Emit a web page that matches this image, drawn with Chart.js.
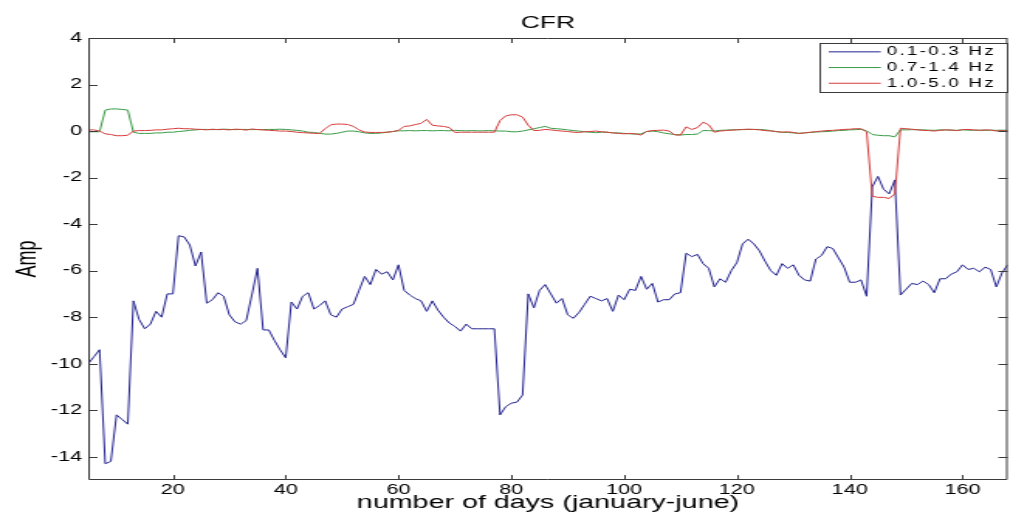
<!DOCTYPE html>
<html>
<head>
<meta charset="utf-8">
<title>CFR</title>
<script src="https://cdn.jsdelivr.net/npm/chart.js@4"></script>
<style>
  html, body { margin: 0; padding: 0; background: #fff; overflow: hidden; }
  /* the source figure is stretched sideways, so draw it narrow and stretch the canvas */
  #cfr { display: block; transform: scaleX(1.549); transform-origin: 0 0; }
</style>
</head>
<body>
<canvas id="cfr" width="652" height="514"></canvas>
<script>
const FONT = '"Liberation Sans", Arial, Helvetica, sans-serif';
const BLUE = '#23238f';
const GREEN = '#379b45';
const RED = '#d63c3c';
const AXIS_COLOR = '#3a3a3a';

const FIRST_DAY = 5;
const xTicks = [20, 40, 60, 80, 100, 120, 140, 160];
const yTicks = [-14, -12, -10, -8, -6, -4, -2, 0, 2, 4];
const bandLabels = ['0.1-0.3 Hz', '0.7-1.4 Hz', '1.0-5.0 Hz'];

// one value per day, starting at day 5
const band01_03 = [
    -10.0, -9.7, -9.4, -14.3, -14.2, -12.2, -12.4, -12.6, -7.3, -8.1,
    -8.5, -8.3, -7.75, -8.0, -7.0, -7.0, -4.5, -4.55, -4.9, -5.8,
    -5.2, -7.4, -7.25, -6.95, -7.1, -7.9, -8.2, -8.3, -8.15, -7.05,
    -5.9, -8.55, -8.55, -9.0, -9.4, -9.75, -7.35, -7.65, -7.1, -6.95,
    -7.65, -7.5, -7.3, -7.9, -8.0, -7.65, -7.55, -7.45, -6.85, -6.25,
    -6.6, -5.95, -6.15, -6.05, -6.4, -5.75, -6.85, -7.05, -7.2, -7.3,
    -7.75, -7.3, -7.7, -8.0, -8.25, -8.4, -8.6, -8.3, -8.5, -8.5,
    -8.5, -8.5, -8.5, -12.2, -11.85, -11.7, -11.65, -11.35, -7.0, -7.6,
    -6.85, -6.6, -7.0, -7.4, -7.2, -7.9, -8.05, -7.8, -7.45, -7.1,
    -7.2, -7.3, -7.2, -7.75, -7.05, -7.25, -6.8, -6.85, -6.25, -6.8,
    -6.55, -7.35, -7.25, -7.25, -7.0, -6.95, -5.25, -5.4, -5.3, -5.7,
    -5.9, -6.7, -6.35, -6.5, -6.0, -5.65, -4.85, -4.65, -4.85, -5.15,
    -5.6, -6.0, -6.2, -5.7, -5.9, -5.75, -6.2, -6.4, -6.45, -5.5,
    -5.35, -4.97, -5.05, -5.45, -5.85, -6.5, -6.5, -6.4, -7.1, -2.4,
    -1.95, -2.5, -2.7, -2.1, -7.05, -6.8, -6.55, -6.6, -6.45, -6.6,
    -6.95, -6.35, -6.35, -6.15, -6.05, -5.75, -5.95, -5.9, -6.05, -5.85,
    -5.95, -6.7, -6.1, -5.75
];
const band07_14 = [
    -0.03, -0.03, -0.03, 0.9, 0.95, 0.95, 0.93, 0.9, -0.05, -0.1,
    -0.1, -0.1, -0.08, -0.08, -0.05, -0.05, -0.02, 0.0, 0.03, 0.05,
    0.07, 0.07, 0.06, 0.07, 0.08, 0.07, 0.06, 0.07, 0.07, 0.06,
    0.07, 0.06, 0.07, 0.07, 0.08, 0.07, 0.05, 0.03, 0.0, -0.05,
    -0.06, -0.1, -0.13, -0.13, -0.1, -0.05, 0.0, 0.0, -0.03, -0.08,
    -0.1, -0.1, -0.08, -0.05, -0.02, 0.01, 0.01, 0.02, 0.01, 0.02,
    0.02, 0.01, 0.02, 0.02, 0.01, 0.03, 0.02, 0.01, 0.02, 0.01,
    0.01, 0.02, 0.01, 0.0, 0.0, -0.03, -0.03, 0.0, 0.05, 0.1,
    0.15, 0.2, 0.12, 0.1, 0.08, 0.05, 0.02, 0.0, -0.03, -0.05,
    -0.07, -0.05, -0.05, -0.08, -0.08, -0.1, -0.12, -0.13, -0.12, -0.02,
    0.0, -0.03, -0.08, -0.12, -0.15, -0.17, -0.15, -0.15, -0.13, 0.02,
    0.02, 0.0, 0.03, 0.04, 0.05, 0.06, 0.06, 0.07, 0.07, 0.07,
    0.05, 0.02, -0.03, -0.05, -0.06, -0.08, -0.1, -0.08, -0.06, -0.04,
    -0.03, -0.02, 0.0, 0.02, 0.03, 0.05, 0.06, 0.07, 0.01, -0.15,
    -0.18, -0.2, -0.2, -0.25, 0.05, 0.05, 0.06, 0.06, 0.05, 0.04,
    0.03, 0.05, 0.05, 0.04, 0.03, 0.05, 0.04, 0.03, 0.04, 0.03,
    0.04, 0.03, 0.04, 0.03
];
const band10_50 = [
    0.05, 0.05, 0.0, -0.12, -0.15, -0.2, -0.2, -0.18, 0.0, 0.02,
    0.02, 0.03, 0.05, 0.05, 0.08, 0.1, 0.12, 0.1, 0.1, 0.08,
    0.07, 0.05, 0.08, 0.06, 0.07, 0.05, 0.08, 0.07, 0.04, 0.09,
    0.06, 0.05, 0.03, 0.02, 0.0, 0.0, -0.02, -0.05, -0.07, -0.08,
    -0.1, -0.1, 0.1, 0.27, 0.3, 0.3, 0.28, 0.2, 0.05, -0.04,
    -0.06, -0.06, -0.06, -0.05, -0.02, 0.03, 0.2, 0.22, 0.28, 0.33,
    0.5, 0.25, 0.22, 0.2, 0.15, -0.06, -0.05, -0.05, -0.05, -0.05,
    -0.05, -0.05, -0.05, 0.45, 0.65, 0.7, 0.7, 0.6, 0.25, 0.02,
    0.03, 0.07, 0.05, 0.02, 0.0, -0.02, -0.05, -0.06, -0.03, -0.02,
    0.0, -0.03, -0.05, -0.08, -0.1, -0.12, -0.1, -0.12, -0.17, -0.02,
    0.02, 0.03, 0.04, 0.0, -0.17, -0.17, 0.18, 0.07, 0.15, 0.38,
    0.27, -0.05, 0.0, 0.02, 0.04, 0.05, 0.07, 0.08, 0.07, 0.05,
    0.02, 0.0, -0.02, -0.05, -0.03, -0.06, -0.1, -0.08, -0.05, -0.03,
    0.0, 0.02, 0.03, 0.05, 0.07, 0.08, 0.1, 0.1, -0.03, -2.8,
    -2.85, -2.85, -2.9, -2.7, 0.12, 0.1, 0.08, 0.05, 0.03, 0.02,
    0.0, 0.03, 0.05, 0.04, 0.02, 0.06, 0.07, 0.05, 0.03, 0.05,
    0.04, 0.0, 0.02, 0.0
];
const days = band01_03.map((v, i) => FIRST_DAY + i);

// matlab style frame with inward tick marks on all four sides
const axesBox = {
    id: 'axesBox',
    afterDatasetsDraw(chart) {
        const { ctx, chartArea: a, scales: { x, y } } = chart;
        ctx.save();
        ctx.strokeStyle = AXIS_COLOR;
        ctx.lineWidth = 1;
        ctx.beginPath();
        ctx.rect(a.left + 0.5, a.top + 0.5, a.right - a.left - 1, a.bottom - a.top - 1);
        xTicks.forEach((v) => {
            const px = Math.round(x.getPixelForValue(v)) + 0.5;
            ctx.moveTo(px, a.bottom); ctx.lineTo(px, a.bottom - 5);
            ctx.moveTo(px, a.top); ctx.lineTo(px, a.top + 5);
        });
        yTicks.forEach((v) => {
            const py = Math.round(y.getPixelForValue(v)) + 0.5;
            ctx.moveTo(a.left, py); ctx.lineTo(a.left + 6, py);
            ctx.moveTo(a.right, py); ctx.lineTo(a.right - 6, py);
        });
        ctx.stroke();
        ctx.restore();
    }
};

const boxLegend = {
    id: 'boxLegend',
    afterDatasetsDraw(chart) {
        const { ctx, chartArea: a } = chart;
        const sets = chart.data.datasets;
        const rowH = 15.7, lineLen = 33.6;
        ctx.save();
        ctx.font = '12px ' + FONT;
        ctx.letterSpacing = '1.5px';
        const textW = Math.max(...sets.map(d => ctx.measureText(d.label).width));
        const w = Math.round(6 + lineLen + 4 + textW + 8);
        const h = Math.round(sets.length * rowH + 2);
        const left = Math.round(a.right - w), top = Math.round(a.top + 5);
        ctx.fillStyle = '#fff';
        ctx.fillRect(left, top, w, h);
        ctx.strokeStyle = AXIS_COLOR;
        ctx.lineWidth = 1;
        ctx.strokeRect(left + 0.5, top + 0.5, w - 1, h);
        sets.forEach((d, i) => {
            const cy = top + 1 + rowH * (i + 0.5);
            ctx.strokeStyle = d.borderColor;
            ctx.beginPath();
            ctx.moveTo(left + 6, cy);
            ctx.lineTo(left + 6 + lineLen, cy);
            ctx.stroke();
            ctx.fillStyle = '#000';
            ctx.textBaseline = 'middle';
            ctx.fillText(d.label, left + 6 + lineLen + 4, cy);
        });
        ctx.restore();
    }
};

const lineSet = (label, values, color, order) => ({
    label: label,
    data: values,
    borderColor: color,
    backgroundColor: color,
    borderWidth: 1,
    pointRadius: 0,
    tension: 0,
    order: order,
});

new Chart(document.getElementById('cfr'), {
    type: 'line',
    data: {
        labels: days,
        datasets: [
            lineSet(bandLabels[0], band01_03, BLUE, 2),
            lineSet(bandLabels[1], band07_14, GREEN, 1),
            lineSet(bandLabels[2], band10_50, RED, 0),
        ]
    },
    options: {
        responsive: false,
        animation: false,
        devicePixelRatio: 1,
        layout: { padding: { left: 0, right: 1.5, top: 0, bottom: 0 } },
        plugins: {
            legend: { display: false },
            tooltip: { enabled: false },
            title: {
                display: true,
                text: 'CFR',
                fullSize: false,
                color: '#000',
                font: { family: FONT, size: 17, weight: 'normal', lineHeight: 1.2 },
                padding: { top: 13, bottom: 4.6 }
            }
        },
        scales: {
            x: {
                type: 'linear',
                min: FIRST_DAY,
                max: days[days.length - 1],
                afterBuildTicks: (s) => { s.ticks = xTicks.map(v => ({ value: v })); },
                afterFit: (s) => { s.height = 34; },
                grid: { display: false, drawTicks: false },
                border: { display: false },
                ticks: { color: '#000', padding: 2, maxRotation: 0, autoSkip: false, font: { family: FONT, size: 14 } },
                title: {
                    display: true,
                    text: 'number of days (january-june)',
                    color: '#000',
                    font: { family: FONT, size: 18.5, lineHeight: 1.15 },
                    padding: 0
                }
            },
            y: {
                min: -15,
                max: 4,
                afterBuildTicks: (s) => { s.ticks = yTicks.map(v => ({ value: v })); },
                afterFit: (s) => { s.width = 57; },
                grid: { display: false, drawTicks: false },
                border: { display: false },
                ticks: { color: '#000', padding: 4, autoSkip: false, font: { family: FONT, size: 14 } },
                title: {
                    display: true,
                    text: 'Amp',
                    color: '#000',
                    font: { family: FONT, size: 18, lineHeight: 1.2 },
                    padding: { top: 7, bottom: 0 }
                }
            }
        }
    },
    plugins: [axesBox, boxLegend]
});
</script>
</body>
</html>
